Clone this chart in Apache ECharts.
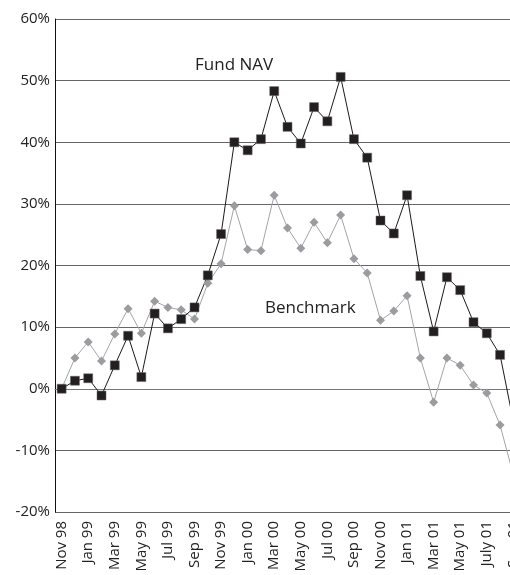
<!DOCTYPE html>
<html>
<head>
<meta charset="utf-8">
<script src="https://cdn.jsdelivr.net/npm/echarts@6/dist/echarts.min.js"></script>
<style>
html,body{margin:0;padding:0;background:#fff;}
#main{width:510px;height:575px;}
</style>
</head>
<body>
<div id="main"></div>
<script>
// 月份（隔月显示标签）
var months = ['Nov 98','Dec 98','Jan 99','Feb 99','Mar 99','Apr 99','May 99','Jun 99','Jul 99','Aug 99',
    'Sep 99','Oct 99','Nov 99','Dec 99','Jan 00','Feb 00','Mar 00','Apr 00','May 00','Jun 00',
    'Jul 00','Aug 00','Sep 00','Oct 00','Nov 00','Dec 00','Jan 01','Feb 01','Mar 01','Apr 01',
    'May 01','Jun 01','July 01','Aug 01','Sep 01'];
// 基金净值 %
var fundNav = [0, 1.3, 1.7, -1.1, 3.8, 8.6, 1.9, 12.2, 9.8, 11.3,
    13.2, 18.4, 25.1, 40.0, 38.7, 40.5, 48.3, 42.5, 39.8, 45.7,
    43.4, 50.6, 40.5, 37.5, 27.3, 25.2, 31.4, 18.3, 9.3, 18.1,
    16.0, 10.8, 9.0, 5.5, -5.3];
// 基准 %
var benchmark = [0, 5.0, 7.6, 4.5, 8.9, 13.0, 9.0, 14.2, 13.2, 12.8,
    11.3, 17.1, 20.3, 29.7, 22.6, 22.4, 31.4, 26.1, 22.8, 27.0,
    23.7, 28.2, 21.1, 18.8, 11.1, 12.6, 15.1, 5.0, -2.2, 5.0,
    3.8, 0.6, -0.7, -5.9, -14.0];
var yTicks = [-20, -10, 0, 10, 20, 30, 40, 50, 60];

// 最后一个点在画布外，只画线不画点
function toItems(arr){
    return arr.map(function(v, i){
        return i == arr.length - 1 ? {value: v, symbol: 'none'} : v;
    });
}

var chart = echarts.init(document.getElementById('main'));
var fontFam = '"Open Sans", sans-serif';
var option = {
    animation: false,
    grid: {left: 55, top: 19, bottom: 63, width: 465, outerBoundsMode: 'none'},  //右侧超出画布，被裁掉
    xAxis: {
        type: 'category',
        data: months,
        boundaryGap: true,
        axisLine: {lineStyle: {color: '#777', width: 1}},
        axisTick: {show: false},
        axisLabel: {
            interval: 1,
            rotate: 90,
            margin: 9,
            color: '#222',
            fontSize: 15,
            fontFamily: fontFam
        }
    },
    yAxis: {
        type: 'value',
        min: yTicks[0],
        max: yTicks[yTicks.length - 1],
        interval: 10,
        axisLine: {show: true, lineStyle: {color: '#111', width: 1}},
        axisTick: {show: false},
        splitLine: {lineStyle: {color: '#666', width: 1}},
        axisLabel: {
            margin: 5,
            color: '#222',
            fontSize: 15,
            fontFamily: fontFam,
            formatter: '{value}%'
        }
    },
    series: [
        {
            name: 'Benchmark',
            type: 'line',
            data: toItems(benchmark),
            symbol: 'diamond',
            symbolSize: 9,
            showAllSymbol: true,
            lineStyle: {color: '#a2a4a7', width: 1},
            itemStyle: {color: '#9a9ca0'}
        },
        {
            name: 'Fund NAV',
            type: 'line',
            data: toItems(fundNav),
            symbol: 'rect',
            symbolSize: 9,
            showAllSymbol: true,
            lineStyle: {color: '#1a1a1a', width: 1},
            itemStyle: {color: '#231f20', borderColor: '#666', borderWidth: 0.5}
        }
    ],
    graphic: [
        {type: 'text', left: 195, top: 57,
            style: {text: 'Fund NAV', font: '17px ' + fontFam, fill: '#222'}},
        {type: 'text', left: 265, top: 300,
            style: {text: 'Benchmark', font: '17px ' + fontFam, fill: '#222'}}
    ]
};
chart.setOption(option);
</script>
</body>
</html>
